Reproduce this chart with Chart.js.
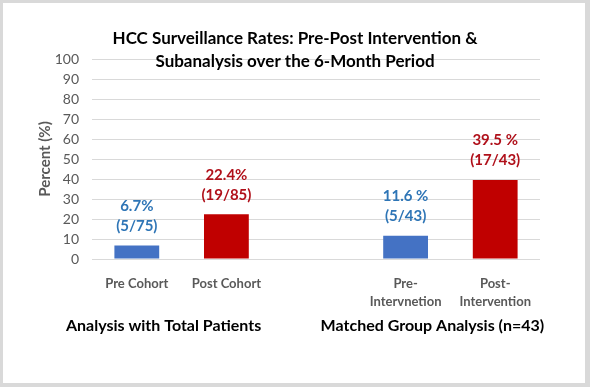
<!DOCTYPE html>
<html><head><meta charset="utf-8">
<script src="https://cdn.jsdelivr.net/npm/chart.js@4.4.0/dist/chart.umd.min.js"></script>
<style>
html,body{margin:0;padding:0;background:#fff;}
#wrap{position:relative;width:590px;height:387px;}
#frame{position:absolute;left:0;top:0;width:590px;height:387px;box-sizing:border-box;border:3px solid #d9d9d9;border-right-width:5px;border-bottom-width:4px;pointer-events:none;}
canvas{display:block;}
</style></head><body>
<div id="wrap"><canvas id="c" width="590" height="387"></canvas><div id="frame"></div></div>
<script>
const titleLines = ['HCC Surveillance Rates: Pre-Post Intervention &', 'Subanalysis over the 6-Month Period'];
const categories = ['Pre Cohort', 'Post Cohort', '', ['Pre-', 'Intervnetion'], ['Post-', 'Intervention']];
const rates = [6.7, 22.4, null, 11.6, 39.5];
const rateLabels = ['6.7%', '22.4%', '', '11.6 %', '39.5 %'];
const countLabels = ['(5/75)', '(19/85)', '', '(5/43)', '(17/43)'];
const groupNames = ['Analysis with Total Patients', 'Matched Group Analysis (n=43)'];
const groupMembers = [[0, 1], [3, 4]];
const yTicks = [0, 10, 20, 30, 40, 50, 60, 70, 80, 90, 100];

const barColors = ['#4472C4', '#C00000', '#4472C4', '#4472C4', '#C00000'];
const labelColors = ['#2E75B6', '#B0101A', '#2E75B6', '#2E75B6', '#B0101A'];
const FONT = 'Lato';

const overlay = {
  id: 'overlay',
  afterDatasetsDraw(chart) {
    const ctx = chart.ctx;
    const meta = chart.getDatasetMeta(0);
    ctx.save();
    ctx.textAlign = 'center';
    ctx.textBaseline = 'middle';
    ctx.font = 'bold 15px ' + FONT;
    meta.data.forEach((bar, i) => {
      if (rates[i] == null) return;
      ctx.fillStyle = labelColors[i];
      ctx.fillText(rateLabels[i], bar.x, bar.y - 39.5);
      ctx.fillText(countLabels[i], bar.x, bar.y - 19.5);
    });
    ctx.restore();
  },
  afterDraw(chart) {
    const ctx = chart.ctx;
    const xs = chart.scales.x;
    ctx.save();
    ctx.textAlign = 'center';
    ctx.textBaseline = 'middle';
    ctx.fillStyle = '#000';
    ctx.font = 'bold 17px ' + FONT;
    ctx.fillText(titleLines[0], chart.width / 2, 38.5);
    ctx.fillText(titleLines[1], chart.width / 2, 61.5);
    ctx.font = 'bold 16px ' + FONT;
    groupNames.forEach((g, k) => {
      const m = groupMembers[k];
      const cx = (xs.getPixelForValue(m[0]) + xs.getPixelForValue(m[1])) / 2 - 18;
      ctx.fillText(g, cx, chart.chartArea.bottom + 67);
    });
    ctx.restore();
  }
};

new Chart(document.getElementById('c'), {
  type: 'bar',
  data: {
    labels: categories,
    datasets: [{
      data: rates,
      backgroundColor: barColors,
      borderWidth: 0,
      categoryPercentage: 1,
      barPercentage: 0.5
    }]
  },
  options: {
    responsive: false,
    animation: false,
    devicePixelRatio: 1,
    layout: { padding: { left: 4, right: 50, top: 59, bottom: 0 } },
    plugins: { legend: { display: false }, title: { display: false }, tooltip: { enabled: false } },
    scales: {
      x: {
        grid: { display: false },
        border: { display: false },
        ticks: { color: '#595959', font: { family: FONT, size: 13, weight: 'bold', lineHeight: 1.4 }, padding: 8, maxRotation: 0, autoSkip: false },
        afterFit(s) { s.height = 128; }
      },
      y: {
        min: 0, max: 100,
        afterBuildTicks(s) { s.ticks = yTicks.map(v => ({ value: v })); },
        grid: { color: '#d9d9d9', drawTicks: false, lineWidth: 1 },
        border: { display: false },
        ticks: { color: '#595959', font: { family: FONT, size: 14 }, padding: 13 },
        title: { display: true, text: 'Percent (%)', color: '#595959', font: { family: FONT, size: 15, weight: 'bold' }, padding: { top: 32, bottom: 0 } },
        afterFit(s) { s.width = 88; }
      }
    }
  },
  plugins: [overlay]
});
</script>
</body></html>
